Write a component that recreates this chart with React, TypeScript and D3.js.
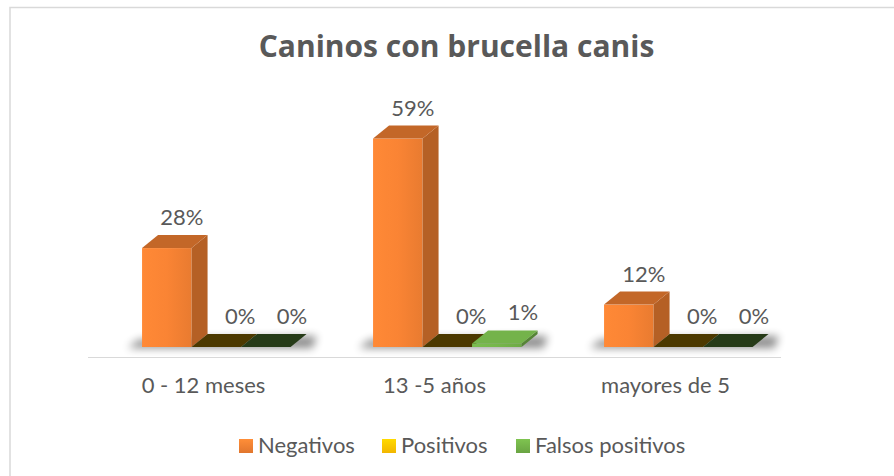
import React from 'react';
import * as d3 from 'd3';

const title = 'Caninos con brucella canis';
const categories = ['0 - 12 meses', '13 -5 años', 'mayores de 5'];
const seriesNames = ['Negativos', 'Positivos', 'Falsos positivos'];
const negativos = [28, 59, 12];
const positivos = [0, 0, 0];
const falsosPositivos = [0, 1, 0];
const seriesColors = ['#ED7D31', '#FFC000', '#70AD47'];

const W = 894;
const H = 476;
const DX = 16;
const DY = 13;
const FONT = 'Lato, "Open Sans", sans-serif';
const TITLE_FONT = '"Open Sans", Lato, sans-serif';
const TEXT = '#595959';
const LABEL_SHIFT = [15, 24, 26];

export default function App() {
  const values = [negativos, positivos, falsosPositivos];
  const x = d3.scaleBand<string>().domain(categories).range([88, 781]);
  const bw = x.bandwidth();
  const xs = d3.scaleBand<string>().domain(seriesNames).range([bw * 0.234, bw * 0.877]);
  const y = d3.scaleLinear().domain([0, 60]).range([347, 135]);
  const base = y(0);

  const legendX = [239, 382, 516];

  return (
    <svg width={W} height={H} style={{ position: 'absolute', left: 0, top: 0, background: '#fff' }}>
      <defs>
        <filter id="blur" x="-50%" y="-200%" width="200%" height="500%">
          <feGaussianBlur stdDeviation="4" />
        </filter>
        {seriesColors.map((c, i) => {
          const cc = d3.color(c)!;
          return (
            <linearGradient id={`front${i}`} key={i} x1="0" x2="1" y1="0" y2="0">
              <stop offset="0%" stopColor={cc.brighter(0.25).formatHex()} />
              <stop offset="50%" stopColor={cc.brighter(0.15).formatHex()} />
              <stop offset="100%" stopColor={cc.darker(0.05).formatHex()} />
            </linearGradient>
          );
        })}
        {seriesColors.map((c, i) => {
          const cc = d3.color(c)!;
          return (
            <linearGradient id={`leg${i}`} key={i} x1="0" x2="0" y1="0" y2="1">
              <stop offset="0%" stopColor={cc.brighter(0.35).formatHex()} />
              <stop offset="100%" stopColor={cc.darker(0.15).formatHex()} />
            </linearGradient>
          );
        })}
      </defs>
      <rect x={10} y={7.5} width={W + 20} height={H + 20} fill="#fff" stroke="#d9d9d9" strokeWidth={1.5} />

      <text x={456.5} y={57} textAnchor="middle" fontFamily={TITLE_FONT} fontWeight={700} fontSize={30} fill={TEXT}>
        {title}
      </text>

      {/* axis line */}
      <line x1={88} x2={781} y1={357.5} y2={357.5} stroke="#d9d9d9" strokeWidth={1} />

      {/* shadows */}
      {categories.map((cat) => {
        const gx = x(cat)!;
        const left = gx + xs(seriesNames[0])!;
        const right = gx + xs(seriesNames[2])! + xs.bandwidth() + DX;
        return (
          <polygon
            key={cat}
            points={`${left - 14},${base + 1} ${right + 6},${base + 1} ${right + 10},${base - DY + 2} ${left - 4},${base - DY + 6}`}
            fill="#000"
            opacity={0.45}
            filter="url(#blur)"
          />
        );
      })}

      {/* bars */}
      {categories.map((cat, ci) => (
        <g key={cat}>
          {seriesNames.map((s, si) => {
            const v = values[si][ci];
            const x0 = x(cat)! + xs(s)!;
            const w = xs.bandwidth();
            const yt = y(v);
            const cc = d3.color(seriesColors[si])!;
            const topColor = v > 0 ? cc.brighter(si === 0 ? -0.55 : 0.1).formatHex() : cc.darker(si === 1 ? 3.4 : 3).formatHex();
            const sideColor = cc.darker(0.75).formatHex();
            return (
              <g key={s}>
                {v > 0 && (
                  <rect x={x0} y={yt} width={w} height={base - yt} fill={`url(#front${si})`} />
                )}
                {v > 0 && (
                  <polygon
                    points={`${x0 + w},${base} ${x0 + w + DX},${base - DY} ${x0 + w + DX},${yt - DY} ${x0 + w},${yt}`}
                    fill={sideColor}
                  />
                )}
                <polygon
                  points={`${x0},${yt} ${x0 + w},${yt} ${x0 + w + DX},${yt - DY} ${x0 + DX},${yt - DY}`}
                  fill={topColor}
                />
              </g>
            );
          })}
        </g>
      ))}

      {/* data labels */}
      {categories.map((cat, ci) =>
        seriesNames.map((s, si) => {
          const v = values[si][ci];
          const cx = x(cat)! + xs(s)! + xs.bandwidth() / 2 + LABEL_SHIFT[si];
          return (
            <text key={cat + s} x={cx} y={y(v) - DY - 10} textAnchor="middle" fontFamily={FONT} fontSize={22} fill={TEXT}>
              {`${v}%`}
            </text>
          );
        })
      )}

      {/* category labels */}
      {categories.map((cat) => (
        <text key={cat} x={x(cat)! + bw / 2} y={393} textAnchor="middle" fontFamily={FONT} fontSize={22} fill={TEXT}>
          {cat}
        </text>
      ))}

      {/* legend */}
      {seriesNames.map((s, i) => (
        <g key={s}>
          <rect x={legendX[i]} y={439} width={14} height={14} fill={`url(#leg${i})`} />
          <text x={legendX[i] + 19} y={453} fontFamily={FONT} fontSize={22} fill={TEXT}>
            {s}
          </text>
        </g>
      ))}
    </svg>
  );
}
